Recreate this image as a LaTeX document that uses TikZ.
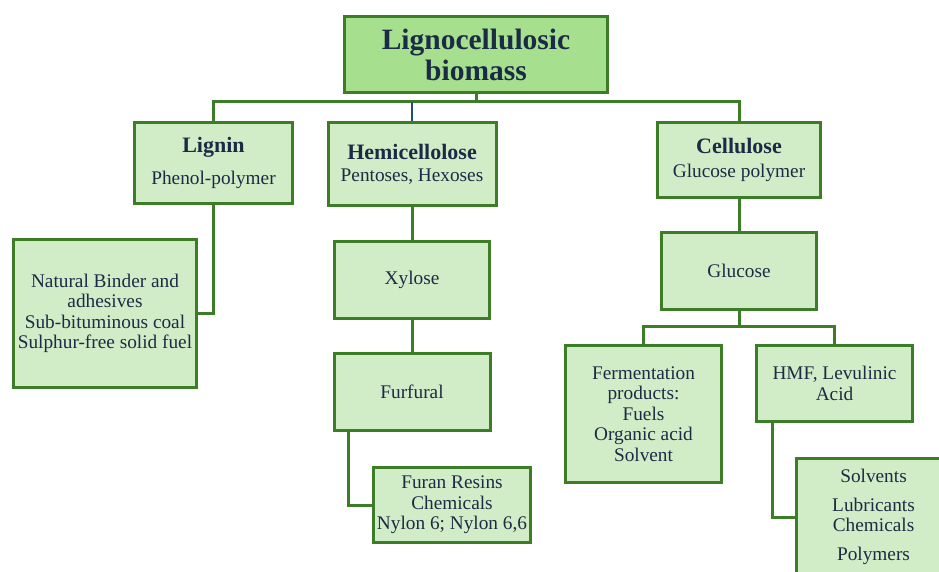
\documentclass[tikz,border=0pt]{standalone}
\usepackage{fontspec}
\setmainfont{Liberation Serif}
\definecolor{bord}{HTML}{3E7D27}
\definecolor{boxfill}{HTML}{D1EDC7}
\definecolor{topfill}{HTML}{A6E08F}
\definecolor{txt}{HTML}{1C2B45}
\definecolor{blueln}{HTML}{1F4E79}
\newcommand{\rgf}{\fontsize{19.3}{20.5}\selectfont}
\newcommand{\hbf}{\bfseries\fontsize{22}{24}\selectfont}
\newcommand{\tbf}{\bfseries\fontsize{29.5}{31}\selectfont}
\begin{document}
\begin{tikzpicture}[x=1pt,y=-1pt,
  box/.style={draw=bord, line width=3pt, fill=boxfill, text=txt, align=center, inner sep=0pt, font=\rgf},
  conn/.style={draw=bord, line width=3pt},
  blueconn/.style={draw=blueln, line width=2.2pt}]
\useasboundingbox (0,0) rectangle (939,572);
\clip (0,0) rectangle (939,572);
% boxes
\node[box, fill=topfill, font=\tbf, minimum width=263pt, minimum height=76pt] (top) at (476,54.5) {Lignocellulosic\\biomass};
\node[box, minimum width=158pt, minimum height=81pt] (lignin) at (213.5,163) {{\hbf Lignin}\\[11pt]Phenol-polymer};
\node[box, minimum width=168pt, minimum height=83pt] (hemi) at (412,164) {{\hbf Hemicellolose}\\[1.5pt]Pentoses, Hexoses};
\node[box, minimum width=163pt, minimum height=75pt] (cell) at (739,160) {{\hbf Cellulose}\\[3pt]Glucose polymer};
\node[box, minimum width=183pt, minimum height=148pt] (nat) at (105,313.5) {Natural Binder and\\adhesives\\Sub-bituminous coal\\Sulphur-free solid fuel};
\node[box, minimum width=155pt, minimum height=77pt] (xylose) at (412,280) {Xylose};
\node[box, minimum width=156pt, minimum height=77pt] (furfural) at (412,392) {Furfural};
\node[box, minimum width=157pt, minimum height=75pt] (furan) at (452,505) {Furan Resins\\Chemicals\\Nylon 6; Nylon 6,6};
\node[box, minimum width=155pt, minimum height=77pt] (glucose) at (739,271) {Glucose};
\node[box, minimum width=156pt, minimum height=137pt] (ferm) at (643.5,414) {Fermentation\\products:\\Fuels\\Organic acid\\Solvent};
\node[box, minimum width=156pt, minimum height=76pt] (hmf) at (834.5,383.5) {HMF, Levulinic\\Acid};
\node[box, minimum width=154pt, minimum height=117pt] (solv) at (873.5,517) {Solvents\\[8pt]Lubricants\\Chemicals\\[8pt]Polymers};
% bus levels
\coordinate (busy) at (0,102);
\coordinate (gbus) at (0,326);
\coordinate (ffc) at (348,432);
\coordinate (hmfc) at (772,423);
% connectors
\draw[conn] (top.south) -- (top.south |- busy);
\draw[conn] (lignin.north) |- (cell.north |- busy) -- (cell.north);
\draw[blueconn] (hemi.north) -- (hemi.north |- busy);
\draw[conn] (lignin.south) |- (nat.east);
\draw[conn] (hemi.south) -- (xylose.north);
\draw[conn] (xylose.south) -- (furfural.north);
\draw[conn] (ffc) |- (furan.west);
\draw[conn] (cell.south) -- (glucose.north);
\draw[conn] (glucose.south) -- (glucose.south |- gbus);
\draw[conn] (ferm.north) |- (hmf.north |- gbus) -- (hmf.north);
\draw[conn] (hmfc) |- (solv.west);
\end{tikzpicture}
\end{document}
